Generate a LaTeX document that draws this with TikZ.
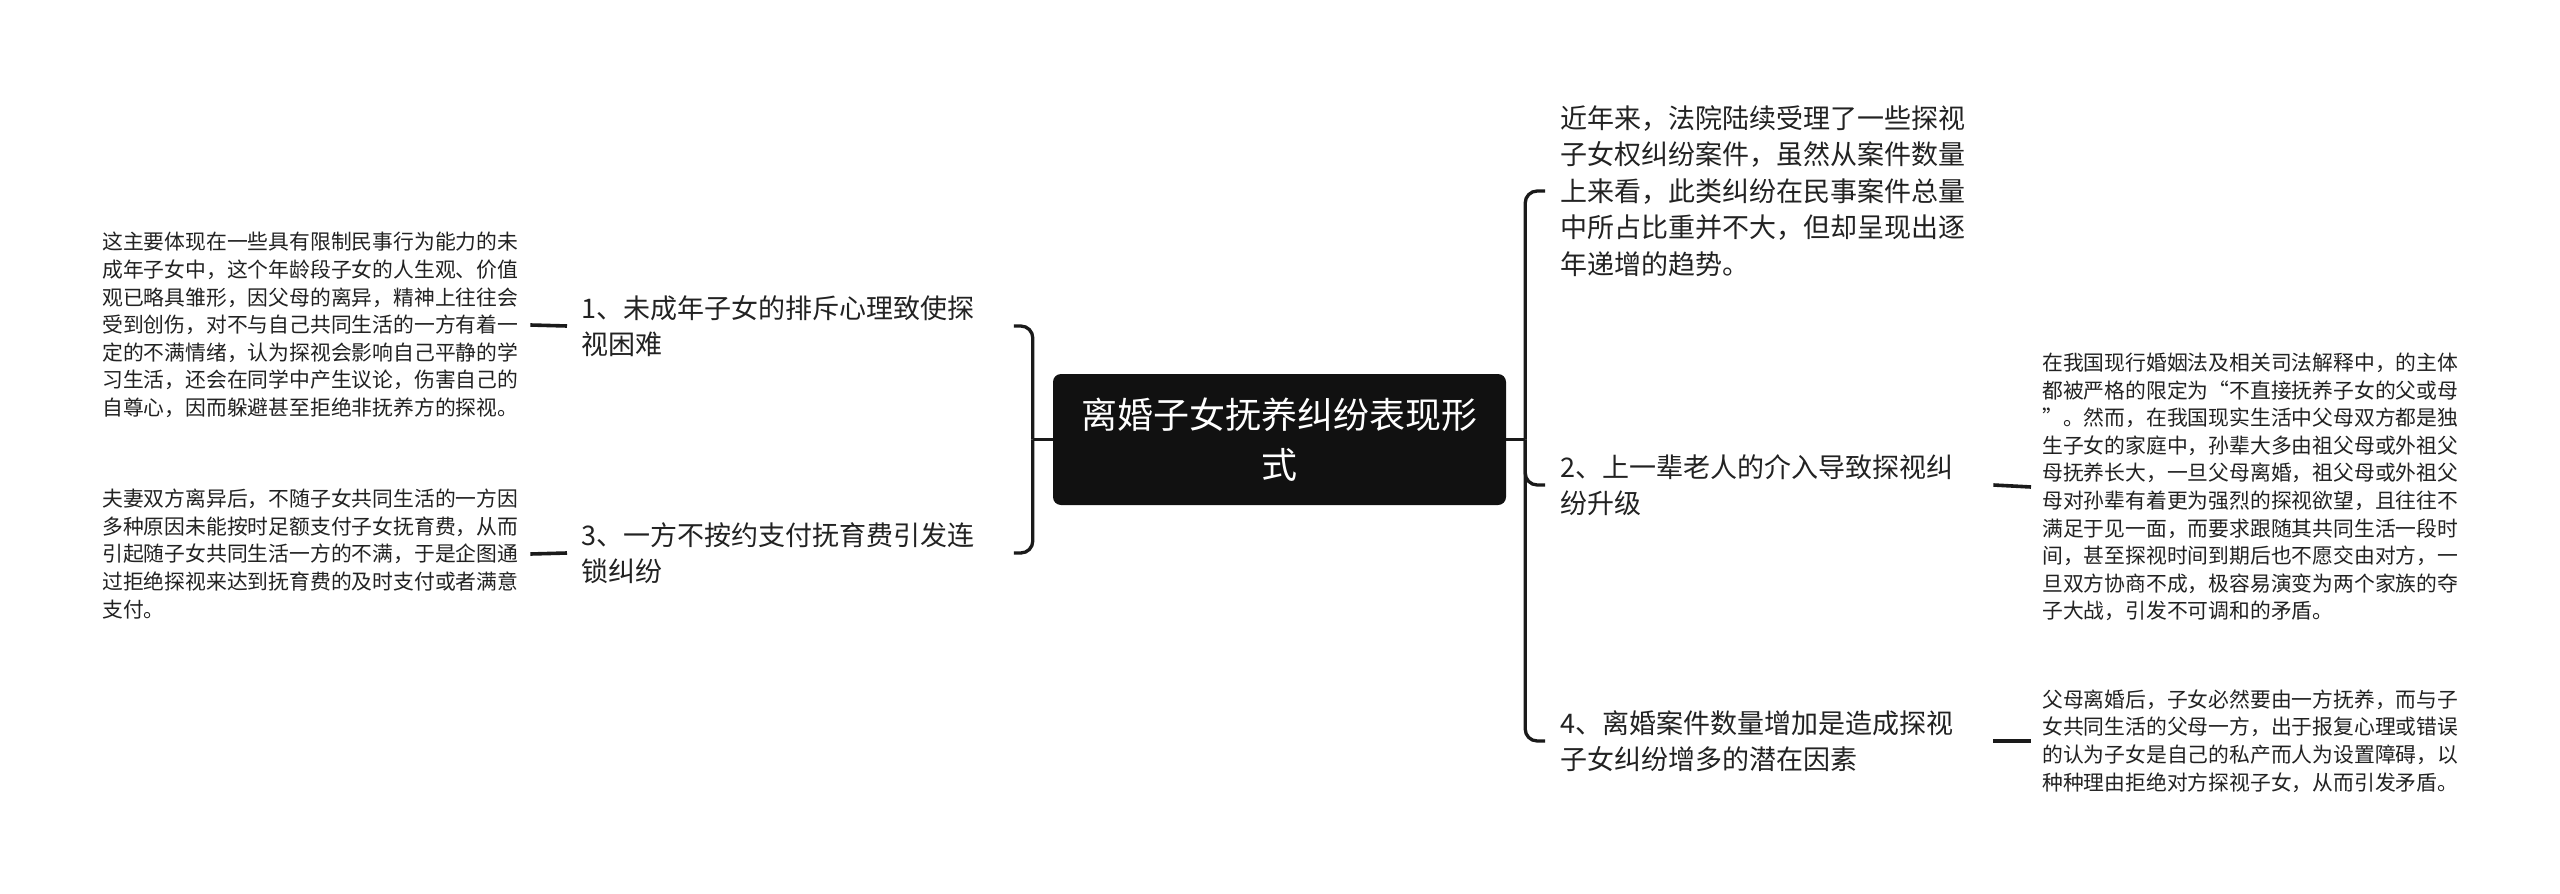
\documentclass[tikz,border=0pt]{standalone}
\usepackage{fontspec}
\setmainfont{Noto Sans CJK SC}
\definecolor{ink}{HTML}{1A1A1A}
\definecolor{txt}{HTML}{222222}
\definecolor{rootfill}{HTML}{111111}
\tikzset{
  conn/.style={draw=ink, line width=3.3pt, rounded corners=12pt},
  stub/.style={draw=ink, line width=3.6pt},
  rootbox/.style={fill=rootfill, rounded corners=8pt, minimum width=453pt, minimum height=131pt,
    inner sep=0pt, align=center, text=white, font=\fontsize{36}{50}\selectfont},
  topic/.style={anchor=west, inner sep=0pt, align=left, text=txt, font=\fontsize{27}{36.5}\selectfont},
  detail/.style={anchor=west, inner sep=0pt, align=left, text=txt, font=\fontsize{20.8}{27.6}\selectfont},
}
\begin{document}
\begin{tikzpicture}[x=1pt,y=-1pt]
\useasboundingbox (0,0) rectangle (2560,894);
\fill[white] (0,0) rectangle (2560,894);

\node[rootbox] (root) at (1279.5,439.5) {离婚子女抚养纠纷表现形\\式};

% right topics
\node[topic] (r1) at (1560,191) {近年来，法院陆续受理了一些探视\\子女权纠纷案件，虽然从案件数量\\上来看，此类纠纷在民事案件总量\\中所占比重并不大，但却呈现出逐\\年递增的趋势。};
\node[topic] (r2) at (1560,485) {2、上一辈老人的介入导致探视纠\\纷升级};
\node[topic] (r4) at (1560,741) {4、离婚案件数量增加是造成探视\\子女纠纷增多的潜在因素};

% left topics
\node[topic] (l1) at (581,326) {1、未成年子女的排斥心理致使探\\视困难};
\node[topic] (l3) at (581,553) {3、一方不按约支付抚育费引发连\\锁纠纷};

% details
\node[detail] (ld1) at (102,325) {这主要体现在一些具有限制民事行为能力的未\\成年子女中，这个年龄段子女的人生观、价值\\观已略具雏形，因父母的离异，精神上往往会\\受到创伤，对不与自己共同生活的一方有着一\\定的不满情绪，认为探视会影响自己平静的学\\习生活，还会在同学中产生议论，伤害自己的\\自尊心，因而躲避甚至拒绝非抚养方的探视。};
\node[detail] (ld3) at (102,554) {夫妻双方离异后，不随子女共同生活的一方因\\多种原因未能按时足额支付子女抚育费，从而\\引起随子女共同生活一方的不满，于是企图通\\过拒绝探视来达到抚育费的及时支付或者满意\\支付。};
\node[detail] (rd2) at (2042,487) {在我国现行婚姻法及相关司法解释中，的主体\\都被严格的限定为“不直接抚养子女的父或母\\”。然而，在我国现实生活中父母双方都是独\\生子女的家庭中，孙辈大多由祖父母或外祖父\\母抚养长大，一旦父母离婚，祖父母或外祖父\\母对孙辈有着更为强烈的探视欲望，且往往不\\满足于见一面，而要求跟随其共同生活一段时\\间，甚至探视时间到期后也不愿交由对方，一\\旦双方协商不成，极容易演变为两个家族的夺\\子大战，引发不可调和的矛盾。};
\node[detail] (rd4) at (2042,741) {父母离婚后，子女必然要由一方抚养，而与子\\女共同生活的父母一方，出于报复心理或错误\\的认为子女是自己的私产而人为设置障碍，以\\种种理由拒绝对方探视子女，从而引发矛盾。};

% root to right topics
\coordinate (rj) at ([xshift=19pt]root.east);
\draw[conn] (root.east) -- (rj);
\draw[conn] (rj) |- ([xshift=-15pt]r1.west);
\draw[conn] (rj) |- ([xshift=-15pt]r2.west);
\draw[conn] (rj) |- ([xshift=-15pt]r4.west);

% root to left topics
\coordinate (lj) at ([xshift=-20pt]root.west);
\coordinate (l1end) at ([xshift=-19pt]lj |- l1.west);
\coordinate (l3end) at ([xshift=-19pt]lj |- l3.west);
\draw[conn] (root.west) -- (lj);
\draw[conn] (lj) |- (l1end);
\draw[conn] (lj) |- (l3end);

% topics to details
\draw[stub] ([xshift=-14pt]l1.west) -- ([xshift=12pt]ld1.east);
\draw[stub] ([xshift=-14pt]l3.west) -- ([xshift=12pt]ld3.east);
\draw[stub] ([xshift=40pt]r2.east) -- ([xshift=-11pt]rd2.west);
\draw[stub] ([xshift=40pt]r2.east |- r4.east) -- ([xshift=-11pt]rd4.west);
\end{tikzpicture}
\end{document}
